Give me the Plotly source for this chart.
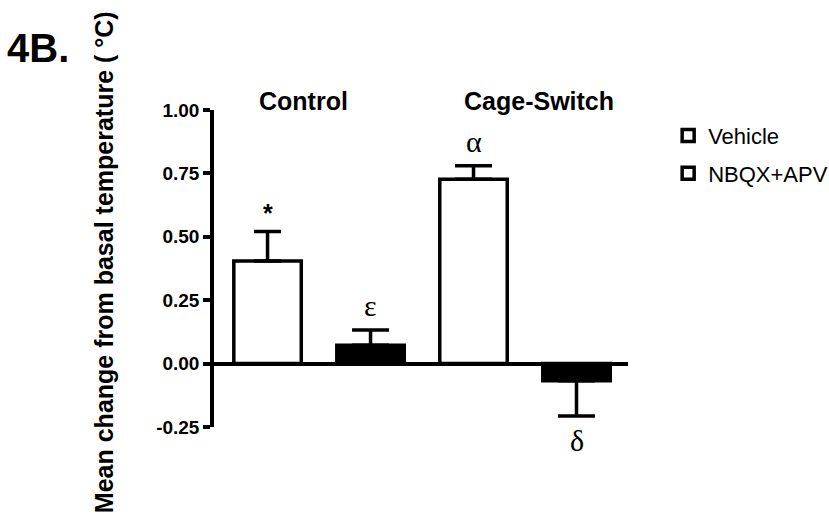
import plotly.graph_objects as go

# ---- data ----
conditions = ["Control Vehicle", "Control NBQX+APV", "Cage-Switch Vehicle", "Cage-Switch NBQX+APV"]
treatment = ["Vehicle", "NBQX+APV", "Vehicle", "NBQX+APV"]
means = [0.405, 0.072, 0.727, -0.068]
sem = [0.116, 0.060, 0.053, 0.139]
sig_marks = ["*", "ε", "α", "δ"]
group_labels = ["Control", "Cage-Switch"]
y_ticks = [-0.25, 0.0, 0.25, 0.50, 0.75, 1.00]
y_ticklabels = ["-0.25", "0.00", "0.25", "0.50", "0.75", "1.00"]
legend_names = ["Vehicle", "NBQX+APV"]

# ---- styles ----
fill = {"Vehicle": "white", "NBQX+APV": "black"}
cap_half = [13.5, 18.5, 18.5, 18.5]
SANS = "Liberation Sans, Arial, Helvetica, sans-serif"
SERIF = "'Liberation Serif', 'Times New Roman', 'DejaVu Serif', serif"

fig = go.Figure()
for i, c in enumerate(conditions):
    up = means[i] >= 0
    fig.add_trace(go.Bar(
        x=[c], y=[means[i]], width=0.655,
        marker=dict(color=fill[treatment[i]], line=dict(color="black", width=3.5)),
        error_y=dict(type="data", symmetric=False,
                     array=[sem[i] if up else 0], arrayminus=[0 if up else sem[i]],
                     color="black", thickness=3.5, width=cap_half[i]),
        showlegend=False, hoverinfo="skip", cliponaxis=False,
    ))

# legend entries (open boxes, as in the original figure)
for k, nm in enumerate(legend_names):
    fig.add_trace(go.Bar(
        x=[conditions[0]], y=[None], name=nm, legendgroup=nm,
        marker=dict(color="white", line=dict(color="black", width=3.5)),
        showlegend=True, visible=True,
    ))

# significance marks
for i, s in enumerate(sig_marks):
    up = means[i] >= 0
    tip = means[i] + sem[i] if up else means[i] - sem[i]
    if s == "*":
        fig.add_annotation(x=conditions[i], y=tip, text="<b>*</b>", showarrow=False,
                           yanchor="bottom", yshift=2,
                           font=dict(family=SANS, size=25, color="black"))
    else:
        fig.add_annotation(x=conditions[i], y=tip, text=s, showarrow=False,
                           yanchor="bottom" if up else "top", yshift=(6 if up else -6),
                           font=dict(family=SERIF, size=30, color="black"))

# group labels
for gx, g in zip([0.215, 0.785], group_labels):
    fig.add_annotation(xref="paper", yref="paper", x=gx, y=1.028, text=f"<b>{g}</b>",
                       showarrow=False, xanchor="center", yanchor="middle",
                       font=dict(family=SANS, size=25, color="black"))

# panel label
fig.add_annotation(xref="paper", yref="paper", x=(38 - 214) / 414, y=(426.7 - 48) / 316.7,
                   text="<b>4B.</b>", showarrow=False, xanchor="center", yanchor="middle",
                   font=dict(family=SANS, size=40, color="black"))

# y-axis title
fig.add_annotation(xref="paper", yref="paper", x=(104 - 214) / 414, y=(426.7 - 262) / 316.7,
                   text="<b>Mean change from basal temperature ( °C)</b>", textangle=-90,
                   showarrow=False, xanchor="center", yanchor="middle",
                   font=dict(family=SANS, size=25, color="black"))

fig.update_layout(
    width=829, height=525,
    margin=dict(l=214, r=201, t=110, b=98, autoexpand=False),
    paper_bgcolor="white", plot_bgcolor="white",
    barmode="overlay",
    showlegend=True,
    legend=dict(x=1.097, y=0.985, xanchor="left", yanchor="top",
                font=dict(family=SANS, size=22, color="black"),
                traceorder="grouped", tracegroupgap=6, bgcolor="rgba(0,0,0,0)"),
    xaxis=dict(type="category", categoryorder="array", categoryarray=conditions,
               range=[-0.52, 3.5], visible=False, showgrid=False, zeroline=False),
    yaxis=dict(range=[-0.25, 1.0], tickvals=y_ticks, ticktext=y_ticklabels,
               showline=True, linecolor="black", linewidth=3.5,
               ticks="outside", ticklen=7, tickwidth=3.5, tickcolor="black",
               tickfont=dict(family=SANS, size=19, color="black", weight="bold"),
               showgrid=False, zeroline=True, zerolinecolor="black", zerolinewidth=3.5),
)

fig.write_html("out.html")
